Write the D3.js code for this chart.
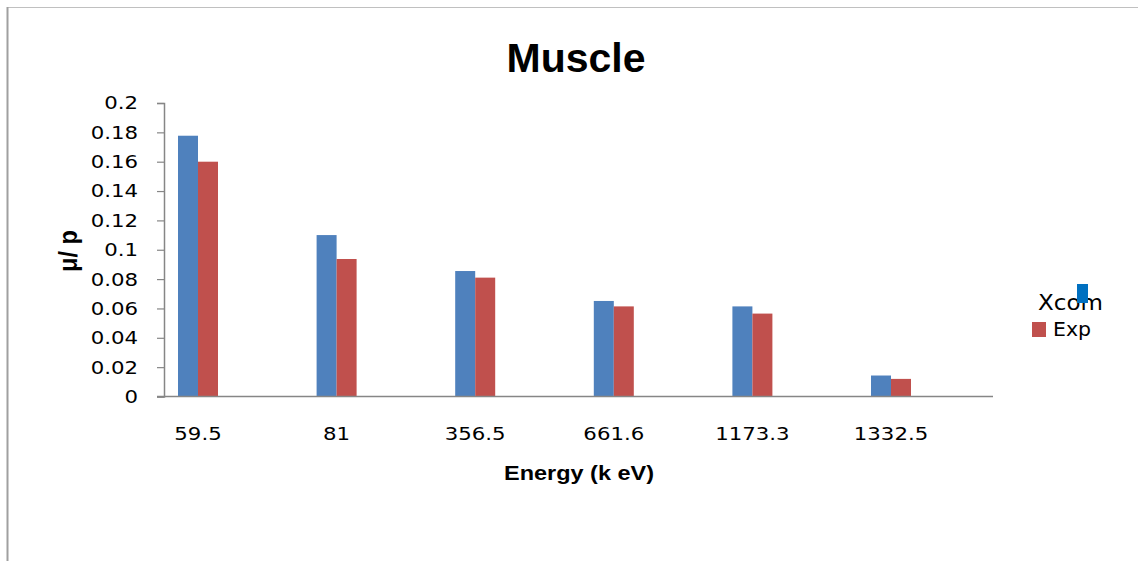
<!DOCTYPE html>
<html>
<head>
<meta charset="utf-8">
<script src="https://cdn.jsdelivr.net/npm/d3@7"></script>
<style>
  html, body { margin: 0; padding: 0; background: #fff; }
  svg { display: block; }
  text { font-family: "DejaVu Sans", sans-serif; fill: #000; }
</style>
</head>
<body>
<svg id="chart" width="1138" height="561"></svg>
<script>
const categories = ["59.5", "81", "356.5", "661.6", "1173.3", "1332.5"];
const seriesNames = ["Xcom", "Exp"];
const xcomValues = [0.1777, 0.110, 0.0855, 0.0651, 0.0614, 0.0143];
const expValues  = [0.160, 0.0937, 0.081, 0.0614, 0.0565, 0.012];
const yTickValues = [0, 0.02, 0.04, 0.06, 0.08, 0.1, 0.12, 0.14, 0.16, 0.18, 0.2];
const yTickLabels = ["0", "0.02", "0.04", "0.06", "0.08", "0.1", "0.12", "0.14", "0.16", "0.18", "0.2"];
const chartTitle = "Muscle";
const xTitle = "Energy  (k eV)";
const yTitle = "\u03bc/ p";

const colors = { Xcom: "#4F81BD", Exp: "#C0504D" };
const legendColors = { Xcom: "#0070C0", Exp: "#C0504D" };
const SX = 1.15; // horizontal stretch of label glyphs

const svg = d3.select("#chart");

// outer border (top and left)
svg.append("line").attr("x1", 7).attr("x2", 1138).attr("y1", 7.5).attr("y2", 7.5)
  .attr("stroke", "#c0c0c0").attr("stroke-width", 1);
svg.append("line").attr("x1", 7.5).attr("x2", 7.5).attr("y1", 7).attr("y2", 561)
  .attr("stroke", "#a0a0a0").attr("stroke-width", 2);

const x0 = d3.scaleBand().domain(categories).range([128.7, 960.3]).paddingInner(0).paddingOuter(0);
const x1 = d3.scaleBand().domain(seriesNames).range([x0.bandwidth() / 2 - 20, x0.bandwidth() / 2 + 20]);
const y = d3.scaleLinear().domain([0, 0.2]).range([396.5, 103]);

const data = categories.map((c, i) => ({ cat: c, vals: [
  { key: "Xcom", value: xcomValues[i] },
  { key: "Exp", value: expValues[i] }
]}));

// bars
const groups = svg.append("g").selectAll("g").data(data).join("g")
  .attr("transform", d => `translate(${x0(d.cat)},0)`);
groups.selectAll("rect").data(d => d.vals).join("rect")
  .attr("x", d => x1(d.key))
  .attr("y", d => y(d.value))
  .attr("width", x1.bandwidth())
  .attr("height", d => y(0) - y(d.value))
  .attr("fill", d => colors[d.key]);

// y axis
const yAxis = d3.axisLeft(y).tickValues(yTickValues)
  .tickFormat((d, i) => yTickLabels[i]).tickSize(7).tickPadding(26);
const yg = svg.append("g").attr("transform", "translate(164,0)").call(yAxis);
yg.select(".domain").attr("stroke", "#868686").attr("stroke-width", 1.5);
yg.selectAll(".tick line").attr("stroke", "#868686").attr("stroke-width", 1.2);
yg.selectAll(".tick text").style("font-family", "'DejaVu Sans', sans-serif")
  .style("font-size", "18.5px").attr("fill", "#000")
  .attr("x", -26 / SX).attr("transform", `scale(${SX},1)`);

// x axis
const xAxis = d3.axisBottom(x0).tickSize(0).tickPadding(30);
const xg = svg.append("g").attr("transform", `translate(0,${y(0)})`).call(xAxis);
xg.select(".domain").remove();
svg.append("line").attr("x1", 157).attr("x2", 993).attr("y1", y(0)).attr("y2", y(0))
  .attr("stroke", "#868686").attr("stroke-width", 1.5);
xg.selectAll(".tick text").style("font-family", "'DejaVu Sans', sans-serif")
  .style("font-size", "18.5px").attr("fill", "#000")
  .attr("transform", `scale(${SX},1)`);

// title
svg.append("text").attr("x", 576).attr("y", 72).attr("text-anchor", "middle")
  .style("font-family", "'Liberation Sans', Arial, sans-serif")
  .style("font-size", "41px").style("font-weight", "bold").text(chartTitle);

// x title
svg.append("text").attr("x", 579).attr("y", 480).attr("text-anchor", "middle")
  .style("font-family", "'Liberation Sans', Arial, sans-serif")
  .style("font-size", "21px").style("font-weight", "bold")
  .attr("textLength", 150).attr("lengthAdjust", "spacingAndGlyphs")
  .text(xTitle);

// y title
svg.append("text").attr("transform", "translate(77,251) rotate(-90)")
  .attr("text-anchor", "middle")
  .style("font-family", "'Liberation Sans', Arial, sans-serif")
  .style("font-size", "25.5px").style("font-weight", "bold")
  .attr("textLength", 42).attr("lengthAdjust", "spacingAndGlyphs")
  .text(yTitle);

// legend
svg.append("text").attr("x", 1038).attr("y", 310)
  .style("font-family", "'DejaVu Sans', sans-serif").style("font-size", "22px")
  .attr("textLength", 65).attr("lengthAdjust", "spacingAndGlyphs")
  .text(seriesNames[0]);
svg.append("rect").attr("x", 1077).attr("y", 284).attr("width", 11).attr("height", 19)
  .attr("fill", legendColors.Xcom);
svg.append("rect").attr("x", 1032).attr("y", 322).attr("width", 14).attr("height", 15)
  .attr("fill", legendColors.Exp);
svg.append("text").attr("x", 1053).attr("y", 336)
  .style("font-family", "'DejaVu Sans', sans-serif").style("font-size", "19.5px")
  .attr("textLength", 38).attr("lengthAdjust", "spacingAndGlyphs")
  .text(seriesNames[1]);
</script>
</body>
</html>
